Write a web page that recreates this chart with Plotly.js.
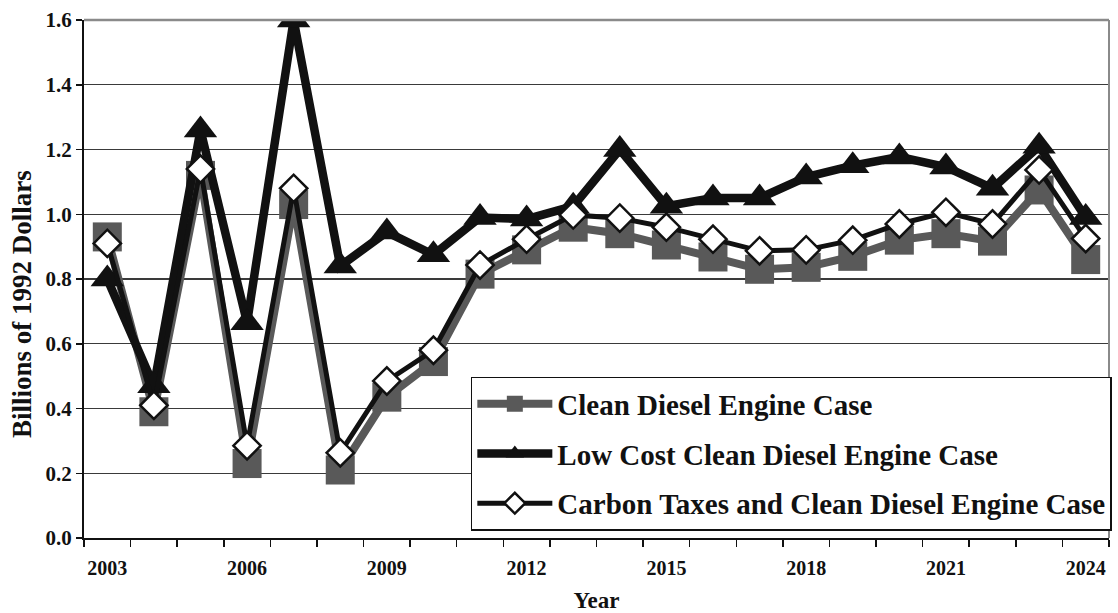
<!DOCTYPE html>
<html>
<head>
<meta charset="utf-8">
<script src="https://cdn.plot.ly/plotly-3.0.1.min.js"></script>
<style>
  html, body { margin: 0; padding: 0; background: #fff; }
  #chart { width: 1118px; height: 613px; }
</style>
</head>
<body>
<div id="chart"></div>
<script>
// Annual costs, billions of 1992 dollars
const years = [2003, 2004, 2005, 2006, 2007, 2008, 2009, 2010, 2011, 2012, 2013,
               2014, 2015, 2016, 2017, 2018, 2019, 2020, 2021, 2022, 2023, 2024];
const cleanDiesel = [0.93, 0.39, 1.12, 0.23, 1.03, 0.21, 0.435, 0.545, 0.815, 0.89, 0.96,
                     0.94, 0.905, 0.868, 0.83, 0.836, 0.87, 0.92, 0.94, 0.917, 1.075, 0.86];
const lowCostDiesel = [0.80, 0.47, 1.26, 0.665, 1.60, 0.84, 0.945, 0.875, 0.99, 0.985, 1.025,
                       1.20, 1.025, 1.05, 1.05, 1.115, 1.15, 1.177, 1.146, 1.08, 1.21, 0.99];
const carbonTaxDiesel = [0.91, 0.41, 1.14, 0.285, 1.08, 0.263, 0.485, 0.58, 0.843, 0.923, 0.998,
                         0.988, 0.96, 0.923, 0.887, 0.89, 0.92, 0.97, 1.006, 0.97, 1.137, 0.925];
const seriesNames = ['Clean Diesel Engine Case',
                     'Low Cost Clean Diesel Engine Case',
                     'Carbon Taxes and Clean Diesel Engine Case'];
const yearTicks = [2003, 2006, 2009, 2012, 2015, 2018, 2021, 2024];

const FONT = '"Liberation Serif", "Times New Roman", Times, serif';
const GRAY = '#595959';
const INK = '#111111';

const traces = [
  {
    x: years, y: cleanDiesel, name: seriesNames[0], legendgroup: 'g1',
    type: 'scatter', mode: 'lines+markers',
    line: { color: GRAY, width: 8 },
    marker: { symbol: 'square', size: 29, color: GRAY }
  },
  {
    x: years, y: lowCostDiesel, name: seriesNames[1], legendgroup: 'g2',
    type: 'scatter', mode: 'lines+markers',
    line: { color: INK, width: 8.5 },
    marker: { symbol: 'triangle-up', size: 29, color: INK }
  },
  {
    x: years, y: carbonTaxDiesel, name: seriesNames[2], legendgroup: 'g3',
    type: 'scatter', mode: 'lines+markers',
    line: { color: INK, width: 5 },
    marker: { symbol: 'diamond', size: 21, color: '#ffffff', line: { color: INK, width: 2.5 } }
  }
];

const layout = {
  width: 1118, height: 613,
  margin: { l: 84, r: 6, t: 20, b: 75 },
  paper_bgcolor: '#ffffff', plot_bgcolor: '#ffffff',
  font: { family: FONT, color: INK, size: 20, weight: 'bold' },
  showlegend: true,
  legend: {
    x: 0.3774, y: 0.311, xanchor: 'left', yanchor: 'top',
    bgcolor: '#ffffff', bordercolor: INK, borderwidth: 1.5,
    font: { family: FONT, size: 29, color: INK, weight: 'bold' },
    traceorder: 'grouped', tracegroupgap: 9, itemwidth: 75
  },
  xaxis: {
    type: 'linear', range: [2002.5, 2024.5],
    tickmode: 'array', tickvals: yearTicks, ticktext: yearTicks.map(String),
    ticks: '', showgrid: false, zeroline: false,
    showline: true, linecolor: INK, linewidth: 2,
    tickfont: { family: FONT, size: 20, color: INK, weight: 'bold' },
    ticklabelstandoff: 11,
    minor: { tick0: 2002.5, dtick: 1, ticks: 'outside', ticklen: 7, tickwidth: 1.5, tickcolor: INK, showgrid: false },
    title: { text: 'Year', font: { family: FONT, size: 23, color: INK, weight: 'bold' }, standoff: 18 }
  },
  yaxis: {
    range: [0, 1.6], dtick: 0.2, tick0: 0, tickformat: '.1f',
    ticks: 'outside', ticklen: 6, tickwidth: 1.5, tickcolor: INK,
    showgrid: true, gridcolor: '#3a3a3a', gridwidth: 1.3, zeroline: false,
    showline: true, linecolor: INK, linewidth: 2,
    tickfont: { family: FONT, size: 21, color: INK, weight: 'bold' },
    title: { text: '' }
  },
  shapes: [
    { type: 'line', xref: 'paper', yref: 'paper', x0: 0, x1: 1, y0: 1, y1: 1, line: { color: '#8a8a8a', width: 2.5 } },
    { type: 'line', xref: 'paper', yref: 'paper', x0: 1, x1: 1, y0: 0, y1: 1, line: { color: '#8a8a8a', width: 2 } }
  ],
  annotations: [
    {
      text: 'Billions of 1992 Dollars', textangle: -90,
      xref: 'paper', yref: 'paper', x: -0.0603, y: 0.452,
      xanchor: 'center', yanchor: 'middle', showarrow: false,
      font: { family: FONT, size: 27, color: INK, weight: 'bold' }
    }
  ]
};

Plotly.newPlot('chart', traces, layout, { displayModeBar: false, staticPlot: true });
</script>
</body>
</html>
